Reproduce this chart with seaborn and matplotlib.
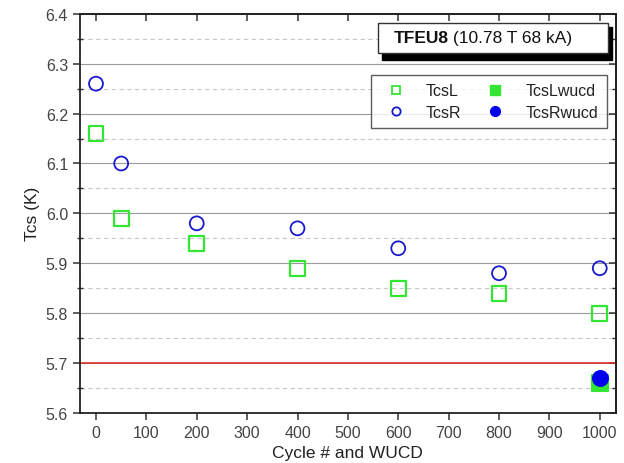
import numpy as np
import pandas as pd
import matplotlib
matplotlib.use("Agg")
import matplotlib.pyplot as plt
import matplotlib.patches as mpatches
from matplotlib.lines import Line2D
from matplotlib.ticker import MultipleLocator, FormatStrFormatter, NullFormatter
import seaborn as sns

# data
cycles = [0, 50, 200, 400, 600, 800, 1000]
tcs_l = [6.16, 5.99, 5.94, 5.89, 5.85, 5.84, 5.80]
tcs_r = [6.26, 6.10, 5.98, 5.97, 5.93, 5.88, 5.89]
wucd_x = [1000]
tcs_l_wucd = [5.66]
tcs_r_wucd = [5.67]
limit_tcs = 5.7

GREEN = "#33e633"
BLUE = "#1a1acc"

sns.set_theme(style="white")
plt.rcParams["font.family"] = ["Liberation Sans", "DejaVu Sans"]

fig = plt.figure(figsize=(6.24, 4.64), dpi=100)
ax = fig.add_axes([0.128, 0.108, 0.859, 0.860])

df_l = pd.DataFrame({"x": cycles, "y": tcs_l})
df_r = pd.DataFrame({"x": cycles, "y": tcs_r})
df_lw = pd.DataFrame({"x": wucd_x, "y": tcs_l_wucd})
df_rw = pd.DataFrame({"x": wucd_x, "y": tcs_r_wucd})

# grid lines first
for y in np.arange(5.7, 6.35, 0.1):
    ax.axhline(y, color="#9a9a9a", lw=0.8, zorder=0)
for y in np.arange(5.65, 6.4, 0.1):
    ax.axhline(y, color="#c8c8c8", lw=0.8, ls=(0, (4, 3)), zorder=0)
ax.axhline(limit_tcs, color="#e03030", lw=1.2, zorder=1)

sns.scatterplot(data=df_lw, x="x", y="y", marker="s", s=120, color=GREEN,
                edgecolor=GREEN, linewidth=1.5, ax=ax, zorder=3)
sns.scatterplot(data=df_rw, x="x", y="y", marker="o", s=115, color="#0000ee",
                edgecolor="#0000ee", linewidth=1.5, ax=ax, zorder=4)
sns.scatterplot(data=df_l, x="x", y="y", marker="s", s=115, facecolor="none",
                edgecolor=GREEN, linewidth=1.6, ax=ax, zorder=3)
sns.scatterplot(data=df_r, x="x", y="y", marker="o", s=100, facecolor="none",
                edgecolor=BLUE, linewidth=1.3, ax=ax, zorder=3)

ax.set_xlim(-32, 1032)
ax.set_ylim(5.6, 6.4)
ax.xaxis.set_major_locator(MultipleLocator(100))
ax.yaxis.set_major_locator(MultipleLocator(0.1))
ax.yaxis.set_minor_locator(MultipleLocator(0.05))
ax.yaxis.set_major_formatter(FormatStrFormatter("%.1f"))

for sp in ax.spines.values():
    sp.set_color("#222222")
    sp.set_linewidth(1.3)
    sp.set_visible(True)

ax.tick_params(axis="both", which="major", labelsize=11.5, colors="#333333",
               labelcolor="#444444", length=5, width=1.1, direction="out",
               left=True, bottom=True, top=False, right=False)
ax.tick_params(axis="y", which="minor", direction="inout", left=True,
               length=4, width=1.0, color="#333333")

# inward ticks on the top and right edges
top = ax.secondary_xaxis("top")
top.xaxis.set_major_locator(MultipleLocator(100))
top.xaxis.set_major_formatter(NullFormatter())
top.tick_params(direction="in", length=5, width=1.1, colors="#333333")
top.spines["top"].set_linewidth(1.3)
right = ax.secondary_yaxis("right")
right.yaxis.set_major_locator(MultipleLocator(0.1))
right.yaxis.set_minor_locator(MultipleLocator(0.05))
right.yaxis.set_major_formatter(NullFormatter())
right.tick_params(which="major", direction="in", length=5, width=1.1, colors="#333333")
right.tick_params(which="minor", direction="in", length=3, width=1.0, colors="#333333")
right.spines["right"].set_linewidth(1.3)

ax.set_xlabel("Cycle # and WUCD", fontsize=12.5, color="#222222")
ax.set_ylabel("Tcs (K)", fontsize=12.5, color="#222222")

# title box with drop shadow
shadow = mpatches.Rectangle((0.563, 0.885), 0.43, 0.082, transform=ax.transAxes,
                            facecolor="black", edgecolor="black", zorder=5,
                            clip_on=False)
box = mpatches.Rectangle((0.556, 0.902), 0.43, 0.075, transform=ax.transAxes,
                         facecolor="white", edgecolor="#333333", lw=1.0,
                         zorder=6, clip_on=False)
ax.add_patch(shadow)
ax.add_patch(box)
t1 = ax.text(0.585, 0.940, "TFEU8", transform=ax.transAxes, fontsize=12.5,
             fontweight="bold", va="center", ha="left", zorder=7, color="#111111")
fig.canvas.draw()
bb = t1.get_window_extent().transformed(ax.transAxes.inverted())
ax.text(bb.x1, 0.940, " (10.78 T 68 kA)", transform=ax.transAxes, fontsize=12.5,
        va="center", ha="left", zorder=7, color="#111111")

handles = [
    Line2D([], [], ls="none", marker="s", ms=6, mfc="none", mec=GREEN, mew=1.3),
    Line2D([], [], ls="none", marker="o", ms=6, mfc="none", mec=BLUE, mew=1.3),
    Line2D([], [], ls="none", marker="s", ms=7, mfc=GREEN, mec=GREEN),
    Line2D([], [], ls="none", marker="o", ms=7, mfc="#0000ee", mec="#0000ee"),
]
labels = ["TcsL", "TcsR", "TcsLwucd", "TcsRwucd"]
leg = ax.legend(handles, labels, ncol=2, loc="upper right",
                bbox_to_anchor=(0.998, 0.868), fontsize=11.5, frameon=True,
                fancybox=False, edgecolor="#333333", columnspacing=1.1,
                handletextpad=0.9, borderpad=0.55, labelspacing=0.4)
leg.get_frame().set_linewidth(1.0)
for txt in leg.get_texts():
    txt.set_color("#222222")

fig.savefig("out.png", dpi=100)
